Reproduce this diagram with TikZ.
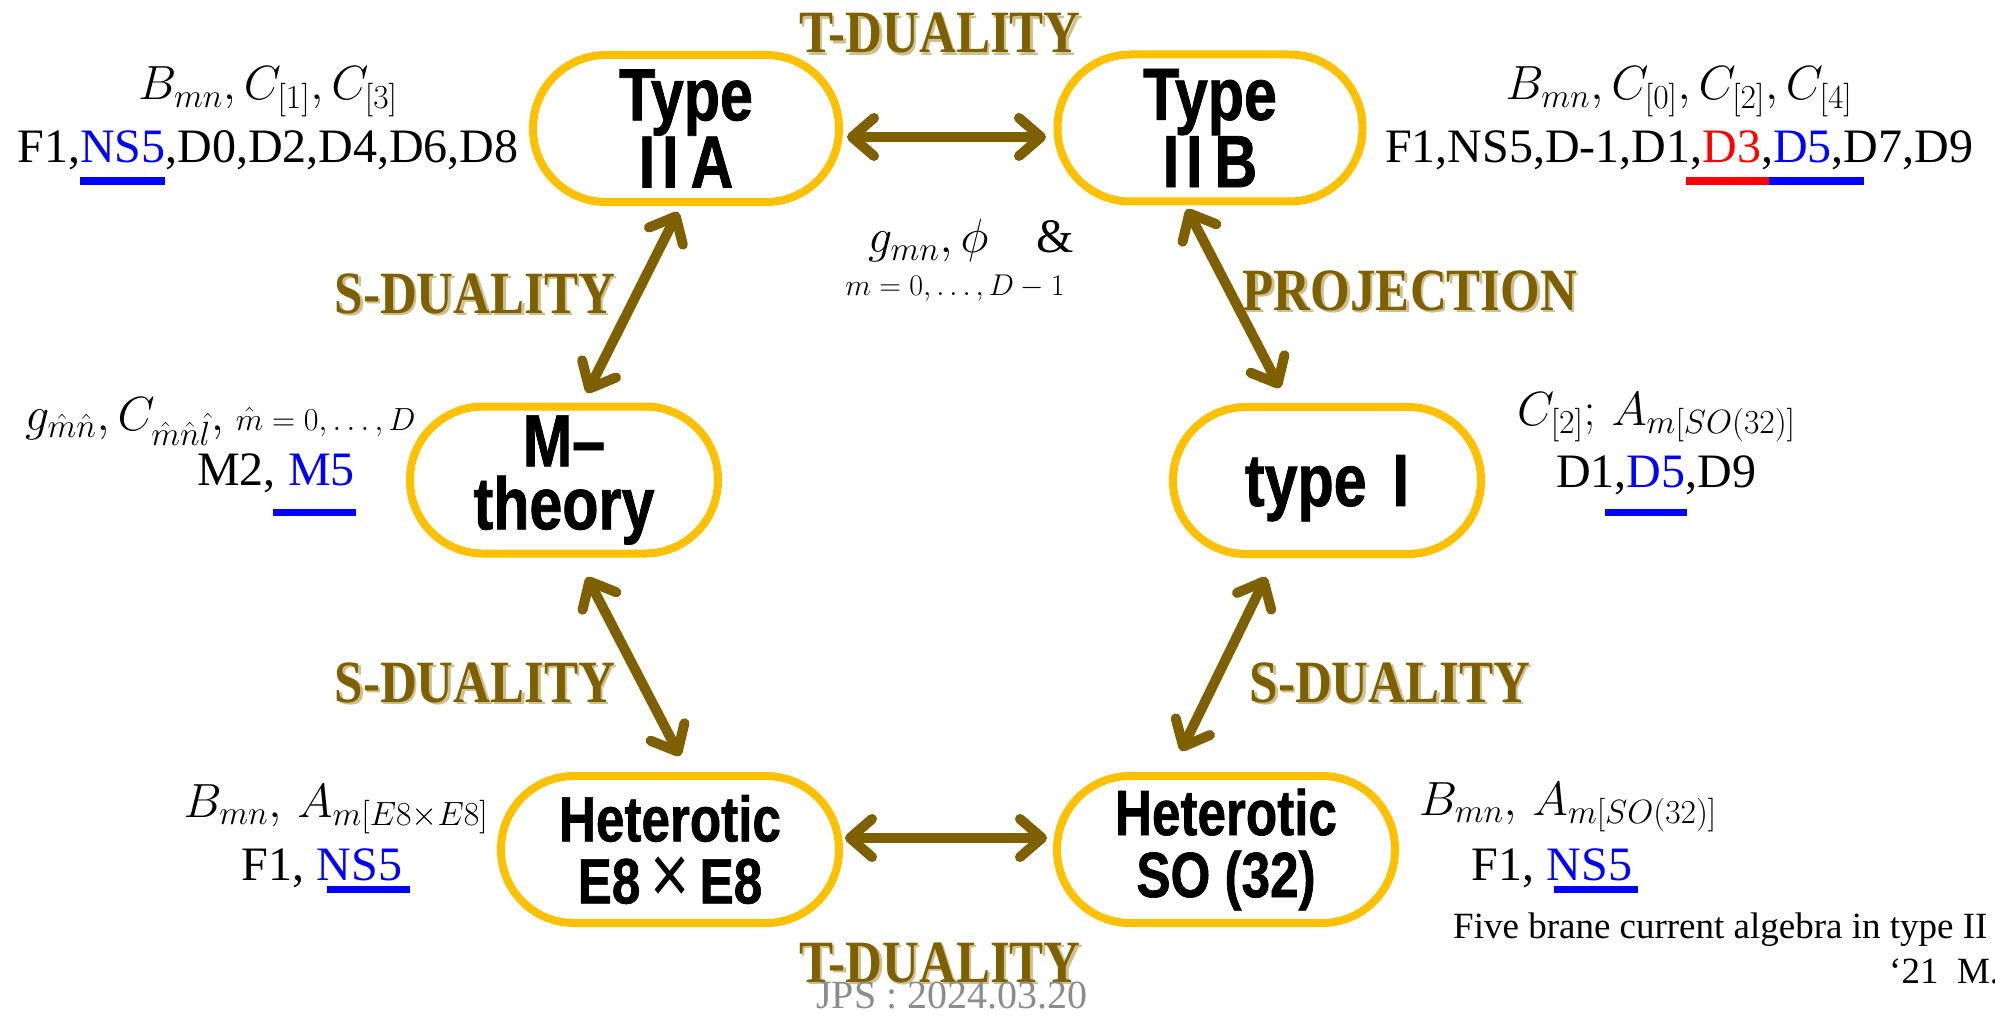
\RequirePackage{fix-cm}
\documentclass[tikz,border=0pt]{standalone}
\usepackage{fontspec}
\setmainfont{Liberation Serif}
\newfontfamily\boxfont[FakeStretch=0.8,BoldFeatures={FakeBold=1}]{Liberation Sans}
\newfontfamily\decofont[FakeStretch=0.85]{Liberation Serif}
\usetikzlibrary{arrows.meta}
\definecolor{gold}{HTML}{FFC000}
\definecolor{olivebr}{HTML}{7F6000}
\definecolor{shadowc}{HTML}{CDBF8E}
\definecolor{jpsgray}{HTML}{8C8C8C}
\newcommand\ubar[5]{\setbox0=\hbox{#5}\rlap{\hspace*{-#3}\textcolor{#1}{\rule[-#2]{\dimexpr\wd0+#3+#4\relax}{7.5pt}}}\box0}
\begin{document}
\begin{tikzpicture}[x=1pt,y=-1pt,
  theory/.style={draw=gold, line width=8pt, rounded corners=73pt, minimum height=147pt,
    inner sep=0pt, align=center, font=\boxfont\bfseries\fontsize{74}{63}\selectfont},
  theorysm/.style={theory, font=\boxfont\bfseries\fontsize{64}{62}\selectfont},
  arr/.style={draw=olivebr, line width=10pt,
    {Straight Barb[round,length=22pt,width=38pt]}-{Straight Barb[round,length=22pt,width=38pt]}},
  lab/.style={inner sep=0pt, anchor=base, font=\fontsize{48}{56}\selectfont},
  labw/.style={lab, anchor=base west},
  deco/.style={inner sep=0pt, anchor=base, text=olivebr, font=\decofont\bfseries\fontsize{60}{60}\selectfont},
  decosh/.style={deco, text=shadowc}]
\useasboundingbox (0,0) rectangle (1995,1019);
\clip (0,0) rectangle (1995,1019);

% theory boxes
\node[theory, minimum width=306pt] (IIA) at (686,128.5) {Type\\I\kern7pt I\kern12pt A};
\node[theory, minimum width=305pt] (IIB) at (1210,128) {Type\\I\kern7pt I\kern12pt B};
\node[theory, minimum width=308pt] (M) at (564,480) {M–\\theory};
\node[theory, minimum width=308pt, text depth=0pt] (I) at (1327,480.5) {type\kern26pt I};
\node[theorysm, minimum width=338pt] (E8) at (670,849.5) {Heterotic\\E8\kern10pt{\mdseries\fontsize{84}{62}\selectfont ×}\kern10pt E8};
\node[theorysm, minimum width=338pt] (SO) at (1226,849.5) {Heterotic\\SO (32)};

% connectors
\draw[arr] ([xshift=4pt,yshift=-8.5pt]IIA.east) -- ([xshift=-7.5pt,yshift=-9pt]IIB.west);
\draw[arr] ([xshift=2pt,yshift=11.5pt]E8.east) -- ([xshift=-6pt,yshift=11.5pt]SO.west);
\draw[arr] ([xshift=-8pt,yshift=-6pt]IIA.south) -- ([xshift=23pt,yshift=9.5pt]M.north);
\draw[arr] ([xshift=-23pt,yshift=-3.5pt]IIB.south) -- ([xshift=-47pt,yshift=15pt]I.north);
\draw[arr] ([xshift=23pt,yshift=-19.5pt]M.south) -- ([xshift=10pt,yshift=16pt]E8.north);
\draw[arr] ([xshift=-61pt,yshift=-19pt]I.south) -- ([xshift=-45pt,yshift=21pt]SO.north);

% decorative labels
\node[decosh] (td1s) at (942.5,55.5) {T-DUALITY};
\node[deco] (td1) at (940,53) {T-DUALITY};
\node[decosh] (sd1s) at (477.5,315.5) {S-DUALITY};
\node[deco] (sd1) at (475,313) {S-DUALITY};
\node[decosh] (pjs) at (1412.5,312.5) {PROJECTION};
\node[deco] (pj) at (1410,310) {PROJECTION};
\node[decosh] (sd2s) at (477.5,704.5) {S-DUALITY};
\node[deco] (sd2) at (475,702) {S-DUALITY};
\node[decosh] (sd3s) at (1392.5,704.5) {S-DUALITY};
\node[deco] (sd3) at (1390,702) {S-DUALITY};
\node[decosh] (td2s) at (942.5,984.5) {T-DUALITY};
\node[deco] (td2) at (940,982) {T-DUALITY};
\node[lab, text=jpsgray, font=\fontsize{40}{48}\selectfont] (jps) at (952,1008) {JPS : 2024.03.20};

% centre text
\node[lab] (gphi) at (971,253) {$g_{mn}, \phi$\quad\&};
\node[lab, font=\fontsize{30}{36}\selectfont] (mrange) at (955,295) {$m = 0, \dots, D-1$};

% Type IIA
\node[lab] (iia1) at (268,100) {$B_{mn}, C_{[1]}, C_{[3]}$};
\node[lab] (iia2) at (268,163) {F1,\ubar{blue}{22pt}{0pt}{0pt}{\textcolor{blue}{NS5}},D0,D2,D4,D6,D8};
% Type IIB
\node[lab] (iib1) at (1679,100) {$B_{mn}, C_{[0]}, C_{[2]}, C_{[4]}$};
\node[lab] (iib2) at (1679,163) {F1,NS5,D-1,D1\ubar{red}{22pt}{4pt}{-4pt}{,\textcolor{red}{D3},}\ubar{blue}{22pt}{4pt}{20pt}{\textcolor{blue}{D5},}D7,D9};
% M-theory
\node[labw] (m1) at (25,430) {$g_{\hat m\hat n}, C_{\hat m\hat n\hat l},$ {\fontsize{32}{38}\selectfont$\hat m = 0, \dots, D$}};
\node[lab] (m2) at (276,485) {M2, \ubar{blue}{31pt}{15pt}{1pt}{\textcolor{blue}{M5}}};
% type I
\node[labw] (t1) at (1517,425) {$C_{[2]};\, A_{m[SO(32)]}$};
\node[lab] (t2) at (1656,487) {D1,\ubar{blue}{29pt}{22pt}{2pt}{\textcolor{blue}{D5}},D9};
% Heterotic E8
\node[lab] (e1) at (336,817) {$B_{mn},\, A_{m[E8\times E8]}$};
\node[lab] (e2) at (322,880) {F1, \ubar{blue}{13pt}{-10pt}{8pt}{\textcolor{blue}{NS5}}};
% Heterotic SO
\node[lab] (s1) at (1568,815) {$B_{mn},\, A_{m[SO(32)]}$};
\node[lab] (s2) at (1552,880) {F1, \ubar{blue}{13pt}{-7pt}{6pt}{\textcolor{blue}{NS5}}};

% reference
\node[labw, font=\fontsize{37}{44}\selectfont] (ref1) at (1453,938) {Five brane current algebra in type II};
\node[labw, font=\fontsize{37}{44}\selectfont] (ref2) at (1889,983) {‘21\ \ M.H};
\end{tikzpicture}
\end{document}
